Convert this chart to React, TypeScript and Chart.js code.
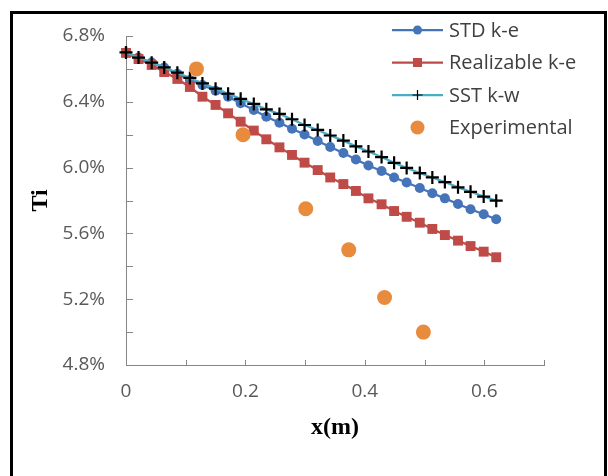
import React, { useEffect, useRef } from 'react';
import { Chart, registerables } from 'chart.js';

Chart.register(...registerables);

// ---- data ----
const xPositions = [0, 0.021, 0.043, 0.064, 0.086, 0.107, 0.128, 0.15, 0.171, 0.192, 0.214, 0.235, 0.257, 0.278, 0.299, 0.321, 0.342, 0.364, 0.385, 0.406, 0.428, 0.449, 0.47, 0.492, 0.513, 0.534, 0.556, 0.577, 0.599, 0.62];
const stdKe = [6.7, 6.669, 6.639, 6.609, 6.57, 6.533, 6.502, 6.467, 6.431, 6.391, 6.35, 6.309, 6.273, 6.236, 6.201, 6.162, 6.125, 6.089, 6.049, 6.013, 5.979, 5.94, 5.909, 5.876, 5.844, 5.813, 5.779, 5.747, 5.716, 5.686];
const realizableKe = [6.697, 6.66, 6.624, 6.581, 6.539, 6.49, 6.431, 6.381, 6.33, 6.279, 6.225, 6.172, 6.123, 6.077, 6.03, 5.985, 5.94, 5.9, 5.858, 5.813, 5.777, 5.736, 5.701, 5.665, 5.627, 5.59, 5.556, 5.523, 5.489, 5.455];
const sstKw = [6.7, 6.669, 6.638, 6.609, 6.577, 6.545, 6.512, 6.48, 6.449, 6.418, 6.387, 6.354, 6.326, 6.294, 6.259, 6.229, 6.195, 6.164, 6.129, 6.098, 6.064, 6.029, 5.998, 5.967, 5.94, 5.912, 5.88, 5.853, 5.824, 5.799];
const expX = [0.118, 0.196, 0.301, 0.373, 0.433, 0.498];
const expTi = [6.6, 6.2, 5.75, 5.5, 5.21, 5.0];

const seriesNames = ['STD k-e', 'Realizable k-e', 'SST k-w', 'Experimental'];
const xTitle = 'x(m)';
const yTitle = 'Ti';
const yMin = 4.8;
const yMax = 6.8;
const yStep = 0.2;
const xMin = 0;
const xMax = 0.7;
const xStep = 0.1;

const BLUE = '#4674B8';
const RED = '#BE4B48';
const TEAL = '#4BACC6';
const ORANGE = '#E88B3C';
const AXIS = '#868686';
const TICK_TEXT = '#595959';
const LEGEND_TEXT = '#404040';

const pair = (xs: number[], ys: number[]) => xs.map((x, i) => ({ x, y: ys[i] }));

const tickMarks = {
  id: 'tickMarks',
  beforeDatasetsDraw(chart: any) {
    const { ctx, chartArea, scales } = chart;
    ctx.save();
    ctx.strokeStyle = AXIS;
    ctx.lineWidth = 1;
    scales.y.ticks.forEach((t: any) => {
      const y = Math.round(scales.y.getPixelForValue(t.value)) + 0.5;
      ctx.beginPath();
      ctx.moveTo(chartArea.left, y);
      ctx.lineTo(chartArea.left + 7, y);
      ctx.stroke();
    });
    scales.x.ticks.forEach((t: any) => {
      const x = Math.round(scales.x.getPixelForValue(t.value)) + 0.5;
      ctx.beginPath();
      ctx.moveTo(x, chartArea.bottom);
      ctx.lineTo(x, chartArea.bottom - 5);
      ctx.stroke();
    });
    ctx.restore();
  },
};

const customLegend = {
  id: 'customLegend',
  afterDraw(chart: any) {
    const { ctx } = chart;
    const rows = [30, 62.5, 95, 127.5];
    const x0 = 392;
    const x1 = 443;
    const mx = (x0 + x1) / 2;
    ctx.save();
    rows.forEach((y, i) => {
      if (i < 3) {
        ctx.strokeStyle = i === 0 ? BLUE : i === 1 ? RED : TEAL;
        ctx.lineWidth = 2.25;
        ctx.beginPath();
        ctx.moveTo(x0, y);
        ctx.lineTo(x1, y);
        ctx.stroke();
      }
      if (i === 0) {
        ctx.fillStyle = BLUE;
        ctx.beginPath();
        ctx.arc(mx, y, 4.5, 0, Math.PI * 2);
        ctx.fill();
      } else if (i === 1) {
        ctx.fillStyle = RED;
        ctx.fillRect(mx - 4.5, y - 4.5, 9, 9);
      } else if (i === 2) {
        ctx.strokeStyle = '#000';
        ctx.lineWidth = 1.2;
        ctx.beginPath();
        ctx.moveTo(mx - 5, y);
        ctx.lineTo(mx + 5, y);
        ctx.moveTo(mx, y - 5);
        ctx.lineTo(mx, y + 5);
        ctx.stroke();
      } else {
        ctx.fillStyle = ORANGE;
        ctx.beginPath();
        ctx.arc(mx, y, 7, 0, Math.PI * 2);
        ctx.fill();
      }
      ctx.fillStyle = LEGEND_TEXT;
      ctx.font = '20px "Open Sans"';
      ctx.textAlign = 'left';
      ctx.textBaseline = 'middle';
      ctx.fillText(seriesNames[i], 449, y + 1);
    });
    ctx.restore();
  },
};

export default function App() {
  const canvasRef = useRef<HTMLCanvasElement | null>(null);

  useEffect(() => {
    if (!canvasRef.current) return;
    const chart = new Chart(canvasRef.current, {
      type: 'scatter',
      data: {
        datasets: [
          {
            label: seriesNames[0],
            data: pair(xPositions, stdKe),
            showLine: true,
            borderColor: BLUE,
            backgroundColor: BLUE,
            borderWidth: 2.25,
            pointStyle: 'circle',
            pointRadius: 5,
            pointBackgroundColor: BLUE,
            pointBorderColor: BLUE,
            pointBorderWidth: 0,
            order: 3,
            clip: false,
          },
          {
            label: seriesNames[1],
            data: pair(xPositions, realizableKe),
            showLine: true,
            borderColor: RED,
            backgroundColor: RED,
            borderWidth: 2.25,
            pointStyle: 'rect',
            pointRadius: 7,
            pointBackgroundColor: RED,
            pointBorderColor: RED,
            pointBorderWidth: 0,
            order: 2,
            clip: false,
          },
          {
            label: seriesNames[2],
            data: pair(xPositions, sstKw),
            showLine: true,
            borderColor: TEAL,
            backgroundColor: TEAL,
            borderWidth: 2.25,
            pointStyle: 'cross',
            pointRadius: 6.5,
            pointBorderColor: '#000',
            pointBorderWidth: 2.2,
            order: 1,
            clip: false,
          },
          {
            label: seriesNames[3],
            data: pair(expX, expTi),
            showLine: false,
            borderColor: ORANGE,
            backgroundColor: ORANGE,
            pointStyle: 'circle',
            pointRadius: 7.5,
            pointBackgroundColor: ORANGE,
            pointBorderColor: ORANGE,
            pointBorderWidth: 0,
            order: 0,
            clip: false,
          },
        ],
      },
      options: {
        animation: false,
        responsive: false,
        maintainAspectRatio: false,
        layout: { padding: { top: 36, right: 64, left: 0, bottom: 0 } },
        plugins: {
          legend: { display: false },
          tooltip: { enabled: false },
        },
        scales: {
          x: {
            type: 'linear',
            min: xMin,
            max: xMax,
            grid: { display: false, drawTicks: false },
            border: { display: true, color: AXIS, width: 1 },
            ticks: {
              stepSize: xStep,
              padding: 15,
              color: TICK_TEXT,
              font: { family: '"Open Sans"', size: 19 },
              maxRotation: 0,
              autoSkip: false,
              callback: (v: any) => {
                const n = Math.round(Number(v) * 10);
                if (n % 2 !== 0) return '';
                return n === 0 ? '0' : Number(v).toFixed(1);
              },
            },
            title: {
              display: true,
              text: xTitle,
              color: '#000',
              font: { family: '"Liberation Serif"', size: 24, weight: 'bold' },
              padding: { top: 0, bottom: 34 },
            },
            afterFit: (scale: any) => {
              scale.height = 111;
            },
          },
          y: {
            type: 'linear',
            min: yMin,
            max: yMax,
            grid: { display: false, drawTicks: false },
            border: { display: true, color: AXIS, width: 1 },
            ticks: {
              stepSize: yStep,
              padding: 21,
              color: TICK_TEXT,
              font: { family: '"Open Sans"', size: 19 },
              autoSkip: false,
              callback: (v: any) => {
                const n = Math.round(Number(v) * 10);
                return n % 4 === 0 ? Number(v).toFixed(1) + '%' : '';
              },
            },
            title: {
              display: true,
              text: yTitle,
              color: '#000',
              font: { family: '"Liberation Serif"', size: 24, weight: 'bold' },
              padding: { top: 26, bottom: 0 },
            },
            afterFit: (scale: any) => {
              scale.width = 126;
            },
          },
        },
      } as any,
      plugins: [tickMarks, customLegend],
    });
    return () => chart.destroy();
  }, []);

  return (
    <div
      style={{
        position: 'fixed',
        left: 0,
        top: 0,
        width: 608,
        height: 476,
        background: '#fff',
        overflow: 'hidden',
      }}
    >
      <canvas
        ref={canvasRef}
        width={608}
        height={476}
        style={{ position: 'absolute', left: 0, top: 0, width: 608, height: 476 }}
      />
      <div
        style={{
          position: 'absolute',
          left: 10,
          top: 11,
          width: 597,
          height: 520,
          boxSizing: 'border-box',
          border: '3px solid #000',
          pointerEvents: 'none',
        }}
      />
    </div>
  );
}
